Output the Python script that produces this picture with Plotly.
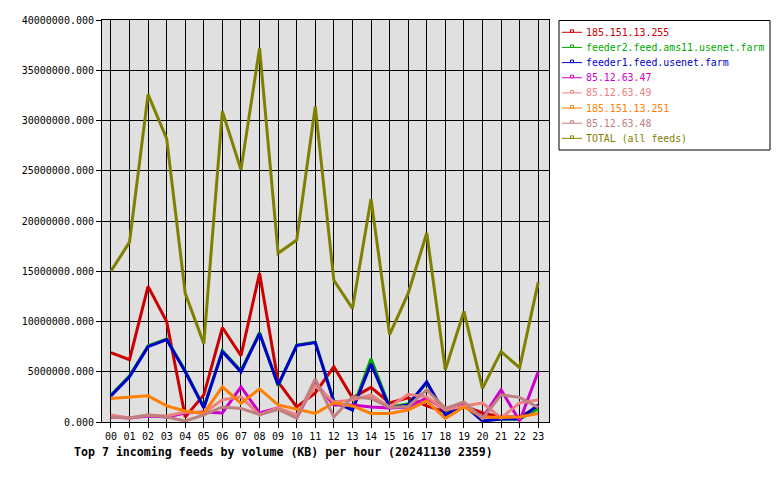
import plotly.graph_objects as go

hours = ["00", "01", "02", "03", "04", "05", "06", "07", "08", "09", "10", "11",
         "12", "13", "14", "15", "16", "17", "18", "19", "20", "21", "22", "23"]

feed_185_151_13_255 = [6900000, 6200000, 13500000, 10000000, 500000, 2700000, 9400000, 6600000,
                       14800000, 4000000, 1500000, 2900000, 5500000, 2400000, 3450000, 1900000,
                       2400000, 1600000, 1000000, 1600000, 900000, 500000, 500000, 1500000]
feed_feeder2 = [2650000, 4600000, 7600000, 8250000, 5100000, 1450000, 7100000, 5100000,
                8900000, 3600000, 7650000, 7950000, 2100000, 1300000, 6300000, 1500000,
                1800000, 3900000, 800000, 1700000, 150000, 300000, 300000, 1300000]
feed_feeder1 = [2600000, 4500000, 7500000, 8200000, 5000000, 1400000, 7000000, 5000000,
                8800000, 3700000, 7600000, 7900000, 2000000, 1200000, 5800000, 1400000,
                1700000, 4000000, 700000, 1700000, 100000, 300000, 300000, 1700000]
feed_85_12_63_47 = [500000, 400000, 600000, 500000, 900000, 1000000, 900000, 3500000,
                    900000, 1400000, 400000, 3900000, 1700000, 1700000, 1500000, 1400000,
                    1500000, 2400000, 1200000, 1800000, 400000, 3200000, 100000, 5000000]
feed_85_12_63_49 = [700000, 400000, 700000, 600000, 1000000, 900000, 2200000, 2500000,
                    700000, 1400000, 700000, 3600000, 2000000, 2200000, 2700000, 1500000,
                    2750000, 2500000, 1200000, 1600000, 1900000, 400000, 1900000, 2200000]
feed_185_151_13_251 = [2350000, 2450000, 2600000, 1600000, 1100000, 850000, 3500000, 1850000,
                       3300000, 1700000, 1250000, 850000, 1900000, 1600000, 850000, 850000,
                       1200000, 2100000, 350000, 1500000, 500000, 450000, 500000, 850000]
feed_85_12_63_48 = [500000, 400000, 700000, 500000, 100000, 700000, 1500000, 1350000,
                    750000, 1250000, 400000, 4300000, 500000, 2500000, 2350000, 1450000,
                    1550000, 3200000, 1350000, 2000000, 350000, 2700000, 2450000, 1450000]
feed_total = [15000000, 17900000, 32600000, 28200000, 12800000, 7800000, 30900000, 25100000,
              37200000, 16800000, 18100000, 31400000, 14100000, 11300000, 22200000, 8700000,
              12800000, 18800000, 5200000, 11000000, 3350000, 7000000, 5400000, 13900000]

series_names = ["185.151.13.255", "feeder2.feed.ams11.usenet.farm", "feeder1.feed.usenet.farm",
                "85.12.63.47", "85.12.63.49", "185.151.13.251", "85.12.63.48", "TOTAL (all feeds)"]
series_values = [feed_185_151_13_255, feed_feeder2, feed_feeder1, feed_85_12_63_47,
                 feed_85_12_63_49, feed_185_151_13_251, feed_85_12_63_48, feed_total]
series_colors = ["#CC0000", "#00AA00", "#0000CC", "#CC00CC", "#F08080", "#FF8000", "#C08080", "#808000"]

title_text = "Top 7 incoming feeds by volume (KB) per hour (20241130 2359)"
y_ticks = [0, 5000000, 10000000, 15000000, 20000000, 25000000, 30000000, 35000000, 40000000]

MONO = "DejaVu Sans Mono"

# plot area in pixels
L, R, T, B = 102, 549, 20, 422
W, H = 780, 480


def px_x(x):
    return (x - L) / (R - L)


def px_y(y):
    return (B - y) / (B - T)


fig = go.Figure()
for name, vals, col in zip(series_names, series_values, series_colors):
    fig.add_trace(go.Scatter(x=hours, y=vals, mode="lines", name=name,
                             line=dict(color=col, width=3), showlegend=False))

fig.update_layout(
    width=W, height=H,
    margin=dict(l=L, r=W - R, t=T, b=H - B, pad=0),
    paper_bgcolor="white",
    plot_bgcolor="#E0E0E0",
    font=dict(family=MONO, size=10, color="black"),
    showlegend=False,
)
fig.update_xaxes(type="category", range=[-0.48, 23.58], showgrid=True, gridcolor="black",
                 gridwidth=1, showline=True, linecolor="black", linewidth=1, mirror=True,
                 ticks="outside", ticklen=5, tickcolor="black", tickfont=dict(family=MONO, size=10),
                 zeroline=False)
fig.update_yaxes(range=[0, 40000000], tickvals=y_ticks, tickformat=".3f", showgrid=True,
                 gridcolor="black", gridwidth=1, showline=True, linecolor="black", linewidth=1,
                 mirror=True, ticks="outside", ticklen=5, tickcolor="black",
                 tickfont=dict(family=MONO, size=10), zeroline=False)

# Legend drawn manually (box, line samples, labels)
shapes = [dict(type="rect", xref="paper", yref="paper", x0=px_x(559), x1=px_x(770),
               y0=px_y(150), y1=px_y(20.5), line=dict(color="black", width=1),
               fillcolor="white")]
annotations = []
row0, step = 32.3, 15.15
for i, (name, col) in enumerate(zip(series_names, series_colors)):
    yc = row0 + i * step
    shapes.append(dict(type="line", xref="paper", yref="paper", x0=px_x(562), x1=px_x(582),
                       y0=px_y(yc), y1=px_y(yc), line=dict(color=col, width=1)))
    shapes.append(dict(type="rect", xref="paper", yref="paper", x0=px_x(570.5), x1=px_x(573.5),
                       y0=px_y(yc), y1=px_y(yc - 2.5), line=dict(color=col, width=1),
                       fillcolor="white"))
    annotations.append(dict(xref="paper", yref="paper", x=px_x(583.5), y=px_y(yc),
                            xanchor="left", yanchor="middle", showarrow=False, text=name,
                            font=dict(family=MONO, size=9.9, color=col)))

annotations.append(dict(xref="paper", yref="paper", x=px_x(72), y=px_y(452), xanchor="left",
                        yanchor="middle", showarrow=False, text="<b>" + title_text + "</b>",
                        font=dict(family=MONO, size=11.6, color="black")))

fig.update_layout(shapes=shapes, annotations=annotations)
fig.write_html("out.html")
